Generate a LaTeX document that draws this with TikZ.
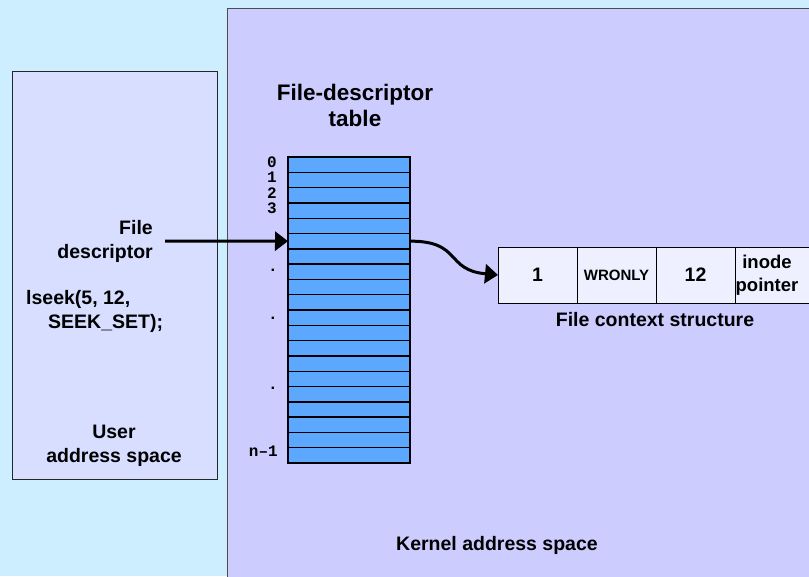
\documentclass[tikz,border=0pt]{standalone}
\usepackage{fontspec}
\setmainfont{Liberation Sans}
\newfontfamily\idxfont{Liberation Mono}
\usetikzlibrary{calc, arrows.meta}

\definecolor{outerbg}{HTML}{CCEEFF}
\definecolor{kernelbg}{HTML}{CCCCFF}
\definecolor{userbg}{HTML}{D7DEFF}
\definecolor{slotblue}{HTML}{5CA8FF}
\definecolor{ctxbg}{HTML}{EEF0FF}

\begin{document}
\begin{tikzpicture}[x=1pt, y=-1pt,
  txt/.style={font=\bfseries\fontsize{19.5}{24}\selectfont, align=center, inner sep=0pt},
  idx/.style={font=\idxfont\bfseries\fontsize{16}{16}\selectfont, inner sep=0pt},
  slot/.style={draw, line width=1.4pt, fill=slotblue, minimum width=122pt,
    minimum height=\sloth pt, inner sep=0pt, outer sep=0pt},
  ctxcell/.style={draw, line width=0.8pt, fill=ctxbg, minimum width=\ctxw pt,
    minimum height=56pt, inner sep=0pt, outer sep=0pt, txt},
  ptr/.style={line width=3pt, -{Triangle[length=13pt, width=19pt]}}]

% Table
\newcommand{\tabx}{349}
\newcommand{\taby}{157}
\newcommand{\sloth}{15.3}
% Context structure
\newcommand{\ctxw}{79}

% Page frame
\useasboundingbox (0,0) rectangle (809,576);
\clip (0,0) rectangle (809,576);
\fill[outerbg] (0,0) rectangle (809,576);

% Address spaces
\draw[draw=black!70, line width=0.8pt, fill=kernelbg] (227,8) rectangle (830,600);
\draw[draw=black!85, line width=0.8pt, fill=userbg] (12,71) rectangle (217,479);

\node[txt] (userlbl) at (114,446) {User\\address space};
\node[txt] (kernlbl) at (497,545) {Kernel address space};

% Descriptor table
\foreach \i in {0,...,19}{
  \node[slot] (row\i) at (\tabx, \taby+\sloth/2+\i*\sloth) {};
}
\draw[line width=2.5pt] (row0.north west) rectangle (row19.south east);

\node[txt, font=\bfseries\fontsize{22.5}{26}\selectfont] (tabtitle) at (355,105)
  {File-descriptor\\table};

% Slot numbers
\foreach \i/\y in {0/162, 1/177.5, 2/192.8, 3/208.1}{
  \node[idx] (num\i) at (272,\y) {\i};
}
\foreach \y [count=\k] in {270, 318, 388}{
  \node[idx] (dot\k) at (273,\y) {.};
}
\node[idx, anchor=east] (numlast) at (278,451) {n–1};

% User side
\node[txt, align=right, anchor=east] (fdlabel) at (153,241) {File\\descriptor};
\node[txt, align=left, anchor=west] (call) at (26,311)
  {lseek(5, 12,\\\hspace*{22pt}SEEK\_SET);};

% File context structure
\node[ctxcell] (ctx1) at (537.5,275) {1};
\node[ctxcell, font=\bfseries\fontsize{15}{18}\selectfont] (ctx2)
  at ($(ctx1)+(\ctxw,0)$) {WRONLY};
\node[ctxcell] (ctx3) at ($(ctx2)+(\ctxw,0)$) {12};
\node[ctxcell] (ctx4) at ($(ctx3)+(\ctxw,0)$) {};
\node[txt, font=\bfseries\fontsize{18.5}{23}\selectfont] (ptrlbl) at (767,275)
  {inode\\pointer};
\node[txt] (ctxlbl) at (655,320) {File context structure};

% Pointers
\draw[ptr, shorten <=12pt] (fdlabel.east) -- (row5.west);
\draw[ptr] (row5.east) .. controls (462,241) and (445,270) .. (ctx1.west);

\end{tikzpicture}
\end{document}
